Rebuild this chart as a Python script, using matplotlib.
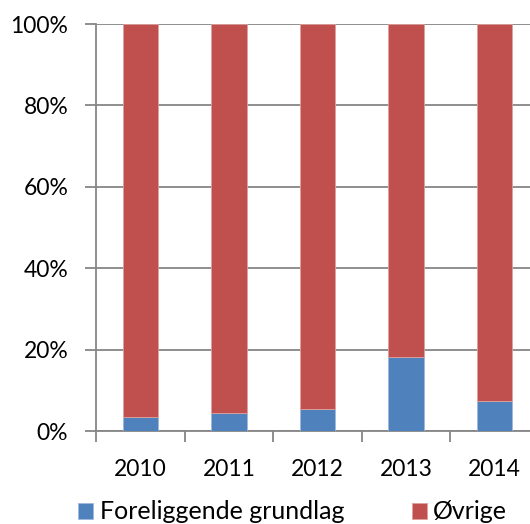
import matplotlib.pyplot as plt
import matplotlib.ticker as ticker
import numpy as np

# === Data ===
years = ["2010", "2011", "2012", "2013", "2014"]
grundlag = [3.5, 4.4, 5.5, 18.1, 7.3]
ovrige = [100 - v for v in grundlag]

plt.rcParams['font.family'] = ['Lato', 'DejaVu Sans']
plt.rcParams['font.size'] = 16.5

fig = plt.figure(figsize=(5.3, 5.24), dpi=100)
ax = fig.add_axes([96 / 530, 93 / 524, 443 / 530, 407 / 524])

x = np.arange(len(years))
blue = "#4F81BD"
red = "#C0504D"
ax.bar(x, grundlag, width=0.4, color=blue, label="Foreliggende grundlag",
       edgecolor="#9db9dc", linewidth=0.6, zorder=3)
ax.bar(x, ovrige, width=0.4, bottom=grundlag, color=red, label="Øvrige",
       edgecolor="#e0a09e", linewidth=0.6, zorder=3)

ax.set_xlim(-0.5, len(years) - 0.5)
ax.set_ylim(0, 100)

# y axis: percent ticks every 20 with gridlines
ax.yaxis.set_major_locator(ticker.MultipleLocator(20))
ax.yaxis.set_major_formatter(ticker.FuncFormatter(lambda v, p: f"{v:.0f}%"))
ax.grid(axis='y', color="#868686", linewidth=1.3, zorder=0)

# x axis: ticks at category boundaries, labels at centres
ax.set_xticks(np.arange(-0.5, len(years), 1))
ax.set_xticklabels([])
ax.set_xticks(x, minor=True)
ax.set_xticklabels(years, minor=True)
ax.tick_params(axis='x', which='minor', length=0, pad=20)
ax.tick_params(axis='x', which='major', length=8, width=1.3, color="#868686")
ax.tick_params(axis='y', length=8, width=1.3, color="#868686", pad=12)

for side in ["top", "right"]:
    ax.spines[side].set_visible(False)
for side in ["left", "bottom"]:
    ax.spines[side].set_color("#868686")
    ax.spines[side].set_linewidth(1.3)

handles, labels = ax.get_legend_handles_labels()
fig.legend(handles, labels, loc="center", bbox_to_anchor=(0.552, 0.023),
           ncol=2, frameon=False, handlelength=0.6, handleheight=0.6,
           handletextpad=0.25, columnspacing=2.7, fontsize=18,
           borderpad=0, borderaxespad=0)

fig.savefig("out.png", dpi=100)
